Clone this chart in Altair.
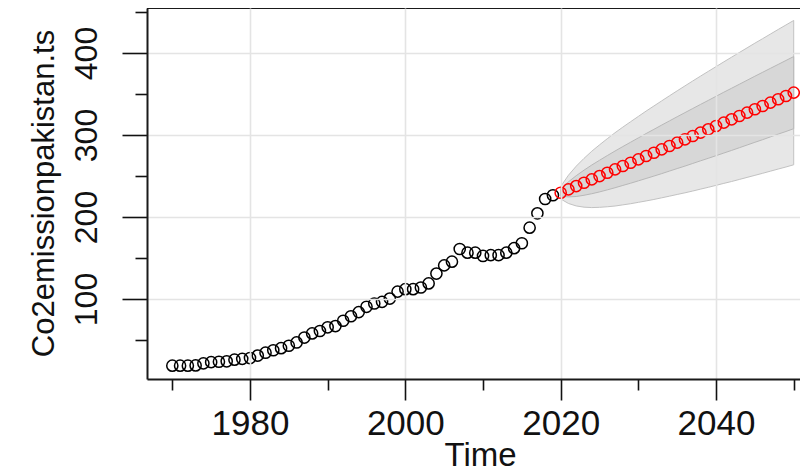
import altair as alt
import pandas as pd

# Historical CO2 emissions (1970-2019)
hist_years = list(range(1970, 2020))
hist_values = [18.7, 18.7, 18.7, 19.0, 21.5, 23.0, 23.5, 24.0, 26.0, 27.0,
               28.0, 31.0, 34.5, 37.5, 40.0, 43.0, 47.0, 53.0, 58.0, 61.0,
               65.5, 67.0, 73.5, 79.0, 84.0, 90.5, 94.5, 96.5, 100.5, 109.0,
               112.0, 112.0, 114.0, 119.0, 131.0, 141.0, 145.5, 161.0, 156.5, 156.5,
               152.5, 153.5, 153.5, 156.5, 162.0, 168.0, 187.0, 204.5, 222.0, 226.5]

# Forecast (2020-2050) with 80% and 95% intervals
fc_years = list(range(2020, 2051))
fc_mean = [229.6, 233.7, 237.7, 241.8, 245.9, 249.9, 254.0, 258.1, 262.2, 266.2,
           270.3, 274.4, 278.4, 282.5, 286.6, 290.7, 294.7, 298.8, 302.9, 306.9,
           311.0, 315.1, 319.1, 323.2, 327.3, 331.4, 335.4, 339.5, 343.6, 347.6, 351.7]
lo95 = [222.0, 216.5, 213.5, 212.0, 211.5, 211.8, 212.5, 213.4, 214.8, 216.2,
        217.9, 219.6, 221.4, 223.4, 225.4, 227.5, 229.5, 231.7, 234.0, 236.2,
        238.6, 241.0, 243.3, 245.8, 248.3, 250.8, 253.3, 255.9, 258.5, 261.0, 263.7]
hi95 = [237.2, 251.0, 262.0, 271.5, 280.2, 288.0, 295.5, 302.8, 309.6, 316.2,
        322.7, 329.2, 335.4, 341.6, 347.8, 353.9, 359.9, 365.9, 371.8, 377.6,
        383.4, 389.2, 394.9, 400.6, 406.3, 412.0, 417.5, 423.1, 428.7, 434.2, 439.7]
lo80 = [225.6, 224.5, 225.0, 226.5, 228.4, 230.6, 233.1, 235.7, 238.5, 241.2,
        244.1, 247.0, 249.9, 252.9, 256.0, 259.1, 262.1, 265.3, 268.5, 271.6,
        274.8, 278.0, 281.2, 284.5, 287.8, 291.1, 294.3, 297.7, 301.1, 304.3, 307.7]
hi80 = [233.6, 242.9, 250.4, 257.1, 263.4, 269.2, 274.9, 280.5, 285.9, 291.2,
        296.5, 301.8, 306.9, 312.1, 317.2, 322.3, 327.3, 332.3, 337.3, 342.2,
        347.2, 352.2, 357.0, 361.9, 366.8, 371.7, 376.5, 381.3, 386.1, 390.9, 395.7]

x_ticks = [1970, 1980, 1990, 2000, 2010, 2020, 2030, 2040, 2050]
y_ticks = [50, 100, 150, 200, 250, 300, 350, 400, 450]

hist = pd.DataFrame({"year": hist_years, "value": hist_values})
fc = pd.DataFrame({"year": fc_years, "value": fc_mean,
                   "lo95": lo95, "hi95": hi95, "lo80": lo80, "hi80": hi80})

FONT = "Liberation Sans"
W, H = 653, 371

x_axis = alt.Axis(
    values=x_ticks,
    labelExpr="datum.value % 20 === 0 ? '' + datum.value : ''",
    tickSize={"condition": {"test": "datum.value % 20 === 0", "value": 21}, "value": 11},
    gridOpacity={"condition": {"test": "datum.value % 20 === 0", "value": 1}, "value": 0},
    labelBaseline="alphabetic", labelPadding=34, labelFlush=False, labelOverlap=False,
    labelFont=FONT, labelFontSize=35, labelColor="#111",
    title="Time", titleFont=FONT, titleFontSize=33, titleFontWeight="normal",
    titleColor="#111", titleX=333, titleY=86, titleAlign="center",
    titleBaseline="alphabetic",
    domain=True, domainColor="#1a1a1a", domainWidth=2,
    tickColor="#111", tickWidth=1.6,
    grid=True, gridColor="#e4e4e4", gridWidth=1.6, zindex=1,
)

y_axis = alt.Axis(
    values=y_ticks,
    labelExpr="datum.value % 100 === 0 && datum.value <= 400 ? '' + datum.value : ''",
    tickSize={"condition": {"test": "datum.value % 100 === 0", "value": 25}, "value": 12},
    gridOpacity={"condition": {"test": "datum.value % 100 === 0", "value": 1}, "value": 0},
    labelAngle=270, labelAlign="center", labelBaseline="bottom", labelPadding=19,
    labelFlush=False, labelOverlap=False,
    labelFont=FONT, labelFontSize=32, labelColor="#111",
    title="Co2emissionpakistan.ts", titleFont=FONT, titleFontSize=31,
    titleFontWeight="normal", titleColor="#111", titleAngle=270,
    titleX=-94, titleY=185, titleAlign="center", titleBaseline="alphabetic",
    domain=True, domainColor="#1a1a1a", domainWidth=2,
    tickColor="#111", tickWidth=1.6,
    grid=True, gridColor="#e4e4e4", gridWidth=1.6, zindex=1,
)

xs = alt.Scale(domain=[1966.74, 2050.81], nice=False, zero=False)
ys = alt.Scale(domain=[2.44, 454.9], nice=False, zero=False)


def X():
    return alt.X("year:Q", scale=xs, axis=x_axis, title="Time")


def Y(field):
    return alt.Y(f"{field}:Q", scale=ys, axis=y_axis, title="Co2emissionpakistan.ts")


# top frame line of the plot box (left/bottom come from the axis domains)
frame_top = alt.Chart(hist).mark_rule(color="#1a1a1a", strokeWidth=2).encode(
    x=alt.value(0), x2=alt.value(W), y=alt.value(0)
)

band95 = alt.Chart(fc).mark_area(
    fill="#e7e7e7", stroke="#c2c2c2", strokeWidth=1
).encode(x=X(), y=Y("lo95"), y2="hi95")

band80 = alt.Chart(fc).mark_area(
    fill="#d7d7d7", stroke="#b8b8b8", strokeWidth=1
).encode(x=X(), y=Y("lo80"), y2="hi80")

pts_hist = alt.Chart(hist).mark_point(
    shape="circle", filled=False, size=125, strokeWidth=1.5, color="#000000", opacity=1
).encode(x=X(), y=Y("value"))

pts_fc = alt.Chart(fc).mark_point(
    shape="circle", filled=False, size=125, strokeWidth=1.5, color="#ff0000", opacity=1
).encode(x=X(), y=Y("value"))

chart = alt.layer(band95, band80, pts_hist, pts_fc, frame_top).properties(
    width=W, height=H,
    autosize=alt.AutoSizeParams(type="none"),
    padding={"left": 139, "top": 0, "right": 0, "bottom": 96},
    background="white",
).configure_view(stroke=None)

chart.save("out.html", embed_options={"renderer": "svg", "actions": False})
